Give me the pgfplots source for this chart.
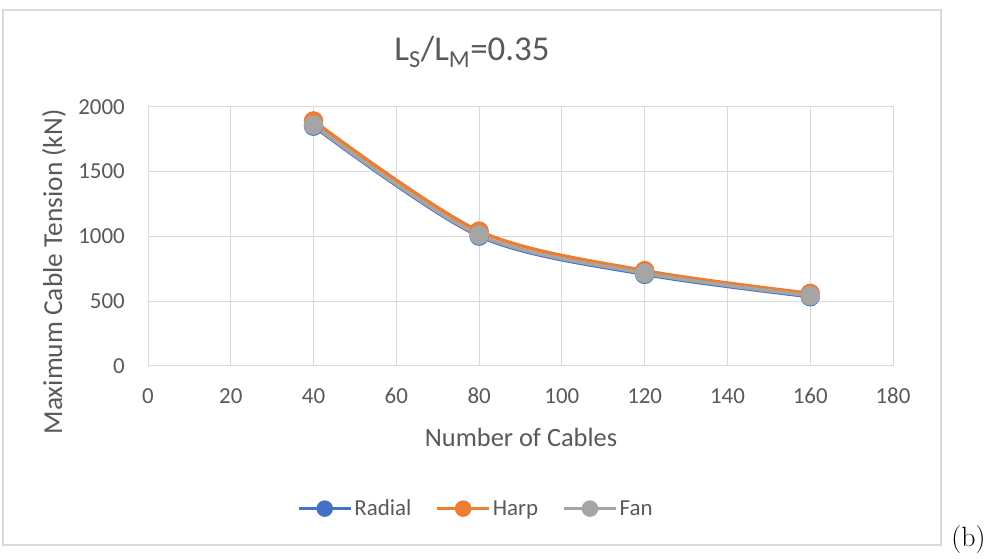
\documentclass[border=0pt]{standalone}
\usepackage{fontspec}
\usepackage{pgfplots}
\pgfplotsset{compat=1.18}
\newfontfamily\calibri{Carlito}
\definecolor{txt}{HTML}{595959}
\definecolor{gridc}{HTML}{D9D9D9}
\definecolor{radial}{HTML}{4472C4}
\definecolor{harp}{HTML}{ED7D31}
\definecolor{fan}{HTML}{A5A5A5}
\begin{document}
\begin{tikzpicture}[x=1bp,y=1bp]
\useasboundingbox (0,0) rectangle (991,559);
\fill[white] (0,0) rectangle (991,559);
\draw[draw=gridc, line width=1.5bp] (3,14) rectangle (941,549);
\begin{axis}[
  at={(148bp,193bp)}, anchor=south west,
  scale only axis, width=745bp, height=259.3bp,
  xmin=0, xmax=180, ymin=0, ymax=2000,
  xtick={0,20,...,180}, ytick={0,500,...,2000},
  major tick length=0pt,
  grid=major,
  major grid style={draw=gridc, line width=1bp},
  axis line style={draw=gridc, line width=1bp},
  /pgf/number format/assume math mode=true,
  /pgf/number format/1000 sep={},
  ticklabel style={font=\calibri\fontsize{23}{27}\selectfont, text=txt, inner sep=0pt},
  yticklabel style={anchor=east, xshift=-23bp},
  xticklabel style={anchor=north, yshift=-22bp},
  legend style={at={(0.44,-0.55)}, anchor=center, draw=none, fill=none,
    font=\calibri\fontsize{23}{27}\selectfont, text=txt,
    legend columns=3,
    /tikz/every even column/.append style={column sep=22bp},
    nodes={inner sep=2bp}},
  legend image code/.code={\draw[#1, mark repeat=2, mark phase=2, mark size=6.5bp] plot coordinates {(0bp,0bp) (26bp,0bp) (52bp,0bp)};},
  every axis plot/.append style={line width=3.5bp, smooth, mark=*, mark size=8bp, mark options={solid, line width=0.5bp}},
]
\addplot[color=radial, mark options={fill=radial, draw=radial}] coordinates {(40,1850) (80,1002) (120,707) (160,535)};
\addlegendentry{Radial}
\addplot[color=harp, mark options={fill=harp, draw=harp}] coordinates {(40,1890) (80,1040) (120,735) (160,560)};
\addlegendentry{Harp}
\addplot[color=fan, mark options={fill=fan, draw=fan}] coordinates {(40,1858) (80,1010) (120,715) (160,542)};
\addlegendentry{Fan}
\end{axis}
\node[text=txt, font=\calibri\fontsize{35}{40}\selectfont] at (472,507) {L\textsubscript{S}/L\textsubscript{M}=0.35};
\node[text=txt, font=\calibri\fontsize{26.5}{30}\selectfont] at (521,122) {Number of Cables};
\node[text=txt, font=\calibri\fontsize{27.5}{32}\selectfont, rotate=90] at (54,287) {Maximum Cable Tension (kN)};
\node[anchor=base east, font=\fontsize{28}{32}\selectfont] at (989,12) {(b)};
\end{tikzpicture}
\end{document}
